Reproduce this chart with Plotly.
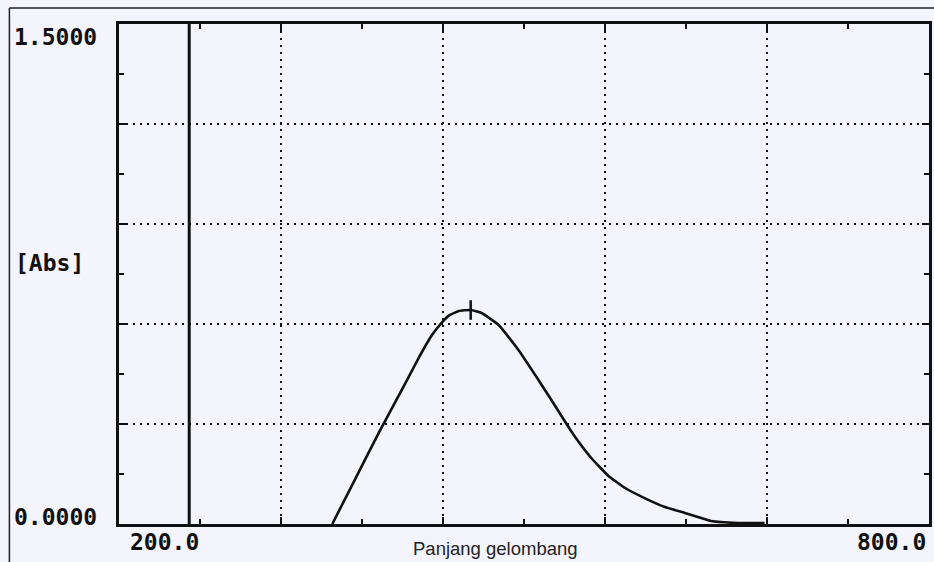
import plotly.graph_objects as go

# Spectrum (wavelength in nm, absorbance)
wavelength = [358, 375.6, 392.6, 405.2, 414.8, 422.1, 431.7, 439.1, 444.3, 451.7, 460.5,
              468.6, 481.2, 495.9, 510.7, 520.3, 530.6, 538.0, 549.8, 562.4, 574.9,
              589.7, 604.4, 619.2, 628.8, 638.4, 658.3, 678.2]
absorbance = [0.0, 0.140, 0.275, 0.370, 0.443, 0.499, 0.566, 0.604, 0.625, 0.639, 0.642,
              0.633, 0.597, 0.522, 0.432, 0.372, 0.306, 0.260, 0.198, 0.145, 0.108,
              0.077, 0.051, 0.033, 0.021, 0.009, 0.003, 0.003]

peak_wavelength = [460.5]
peak_absorbance = [0.642]

marker_wavelength = 252  # solid vertical cursor line

x_range = [200, 800]
y_range = [0.0, 1.5]
x_grid = [320, 440, 560, 680]
y_grid = [0.3, 0.6, 0.9, 1.2]

y_top_label = "1.5000"
y_bottom_label = "0.0000"
y_unit_label = "[Abs]"
x_left_label = "200.0"
x_right_label = "800.0"
x_title = "Panjang gelombang"

bg = "#f4f4fc"
mono = dict(family="DejaVu Sans Mono", size=23, color="#111111", weight="bold")

fig = go.Figure()
fig.add_trace(go.Scatter(x=wavelength, y=absorbance, mode="lines",
                         line=dict(color="#111111", width=2.6, shape="spline", smoothing=0.4),
                         showlegend=False, hoverinfo="skip"))
fig.add_trace(go.Scatter(x=peak_wavelength, y=peak_absorbance, mode="markers",
                         marker=dict(symbol="line-ns", size=14,
                                     line=dict(color="#111111", width=2.5)),
                         showlegend=False, hoverinfo="skip"))

fig.add_vline(x=marker_wavelength, line=dict(color="#111111", width=3))

fig.update_xaxes(range=x_range, tickvals=x_grid, showticklabels=False,
                 showgrid=True, gridcolor="#111111", gridwidth=2, griddash="2px,5px",
                 showline=True, linecolor="#111111", linewidth=3, mirror="allticks",
                 ticks="inside", ticklen=7, tickwidth=2, tickcolor="#111111",
                 minor=dict(dtick=60, tick0=200, ticks="inside", ticklen=5, tickwidth=2,
                            tickcolor="#111111", showgrid=False),
                 zeroline=False, fixedrange=True)
fig.update_yaxes(range=y_range, tickvals=y_grid, showticklabels=False,
                 showgrid=True, gridcolor="#111111", gridwidth=2, griddash="2px,5px",
                 showline=True, linecolor="#111111", linewidth=3, mirror="allticks",
                 ticks="inside", ticklen=7, tickwidth=2, tickcolor="#111111",
                 minor=dict(dtick=0.15, tick0=0, ticks="inside", ticklen=5, tickwidth=2,
                            tickcolor="#111111", showgrid=False),
                 zeroline=False, fixedrange=True)

L, R, T, B = 119, 2, 24, 38
W, H = 934, 562
pw, ph = W - L - R, H - T - B

def px_x(x):
    return (x - L) / pw

def px_y(y):
    return (H - B - y) / ph

# outer frame of the printout
fig.add_shape(type="line", xref="paper", yref="paper", x0=px_x(9), x1=px_x(9),
              y0=px_y(8), y1=px_y(575), line=dict(color="#222222", width=1.5))
fig.add_shape(type="line", xref="paper", yref="paper", x0=px_x(9), x1=px_x(960),
              y0=px_y(8), y1=px_y(8), line=dict(color="#222222", width=1.5))

ann = []
ann.append(dict(text=y_top_label, x=px_x(12), y=px_y(37), xanchor="left", yanchor="middle", font=mono))
ann.append(dict(text=y_bottom_label, x=px_x(12), y=px_y(517), xanchor="left", yanchor="middle", font=mono))
ann.append(dict(text=y_unit_label, x=px_x(13), y=px_y(263), xanchor="left", yanchor="middle", font=mono))
ann.append(dict(text=x_left_label, x=px_x(165), y=px_y(542), xanchor="center", yanchor="middle", font=mono))
ann.append(dict(text=x_right_label, x=px_x(931), y=px_y(542), xanchor="right", yanchor="middle", font=mono))
ann.append(dict(text=x_title, x=px_x(497), y=px_y(548), xanchor="center", yanchor="middle",
                font=dict(family="Liberation Sans", size=18.5, color="#222222")))
for a in ann:
    a.update(xref="paper", yref="paper", showarrow=False)
fig.update_layout(annotations=ann)

fig.update_layout(width=W, height=H, margin=dict(l=L, r=R, t=T, b=B),
                  paper_bgcolor=bg, plot_bgcolor=bg, showlegend=False)

fig.write_html("out.html")
